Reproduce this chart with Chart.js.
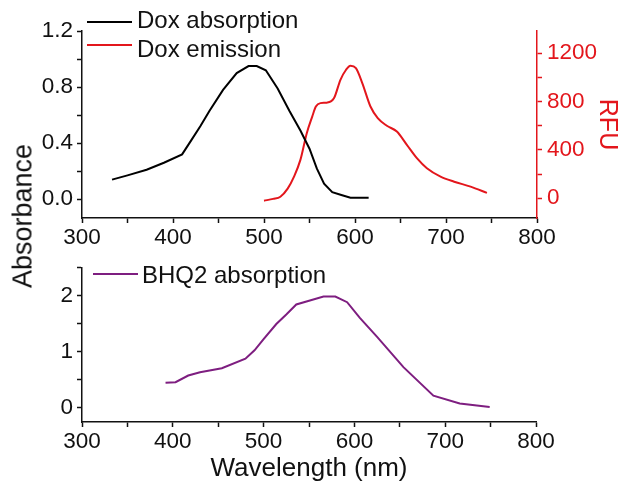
<!DOCTYPE html>
<html>
<head>
<meta charset="utf-8">
<script src="https://cdn.jsdelivr.net/npm/chart.js@4.4.1/dist/chart.umd.min.js"></script>
<style>
  body { margin: 0; background: #fff; }
  #wrap { position: relative; width: 624px; height: 485px; overflow: hidden; }
  canvas { position: absolute; left: 0; }
  #top { top: 0; }
  #bottom { top: 250px; }
  #ylabel {
    position: absolute; left: 23px; top: 216px;
    transform: translate(-50%, -50%) rotate(-90deg);
    font: 27px "Liberation Sans", Arial, sans-serif; color: #111; white-space: nowrap;
  }
</style>
</head>
<body>
<div id="wrap">
  <canvas id="top" width="624" height="250"></canvas>
  <canvas id="bottom" width="624" height="235"></canvas>
  <div id="ylabel">Absorbance</div>
</div>
<script>
// Dox absorption (left axis, top panel)
const doxAbsNm = [333, 350, 371, 390, 410, 420, 430, 440, 455, 470, 483, 492, 502, 515, 528, 540, 550, 558, 566, 575, 585, 595, 615]
const doxAbs = [0.14, 0.17, 0.21, 0.26, 0.32, 0.42, 0.52, 0.63, 0.78, 0.90, 0.95, 0.95, 0.92, 0.79, 0.63, 0.49, 0.36, 0.22, 0.11, 0.05, 0.03, 0.01, 0.01]

// Dox emission (right axis, RFU)
const doxEmNm = [500, 510, 518, 526, 533, 540, 547, 553, 557, 562, 569, 577, 584, 590, 595, 601, 608, 617, 625, 635, 646, 657, 668, 679, 694, 709, 727, 745]
const doxEm = [-20, -5, 13, 80, 179, 317, 538, 675, 758, 786, 790, 828, 979, 1060, 1095, 1076, 952, 758, 662, 599, 551, 441, 331, 248, 179, 137, 96, 45]

// BHQ2 absorption (bottom panel)
const bhqNm = [392, 403, 417, 430, 454, 480, 490, 500, 514, 525, 536, 551, 566, 579, 592, 606, 625, 654, 687, 716, 749]
const bhqAbs = [0.44, 0.45, 0.57, 0.63, 0.70, 0.87, 1.02, 1.22, 1.49, 1.66, 1.84, 1.91, 1.98, 1.98, 1.88, 1.60, 1.26, 0.72, 0.21, 0.07, 0.01]

const wavelengthRange = [300, 800]

const FONT = '"Liberation Sans", Arial, sans-serif'
const RED = '#e3161c'
const PURPLE = '#7e1e80'

const points = (xs, ys) => xs.map((x, i) => ({ x: x, y: ys[i] }))
const every = (step, digits) => (value) => {
    const r = value / step
    return Math.abs(r - Math.round(r)) < 1e-6 ? value.toFixed(digits) : ''
}

// legend drawn as a line sample + label, at fixed spots inside the panel
const lineKey = {
    id: 'lineKey',
    afterDraw(chart, args, opts) {
        const ctx = chart.ctx
        ctx.save()
        ctx.font = opts.font
        ctx.textBaseline = 'middle'
        chart.data.datasets.forEach((ds, i) => {
            const row = opts.rows[i]
            if (!row) return
            ctx.strokeStyle = ds.borderColor
            ctx.lineWidth = 2
            ctx.beginPath()
            ctx.moveTo(row.x1, row.y)
            ctx.lineTo(row.x2, row.y)
            ctx.stroke()
            ctx.fillStyle = '#111'
            ctx.fillText(ds.label, row.tx, row.ty)
        })
        ctx.restore()
    }
}

const xAxis = (height, withTitle) => ({
    type: 'linear',
    min: wavelengthRange[0],
    max: wavelengthRange[1],
    afterFit: (scale) => { scale.height = height },
    border: { display: true, color: '#111', width: 1.5 },
    grid: { drawOnChartArea: false, drawTicks: true, tickLength: 5, tickColor: '#111', tickWidth: 1.5 },
    ticks: { stepSize: 50, autoSkip: false, maxRotation: 0, padding: 1, color: '#111',
             font: { family: FONT, size: 22.5 }, callback: every(100, 0), includeBounds: false },
    title: withTitle ? { display: true, text: 'Wavelength (nm)', color: '#111',
                         font: { family: FONT, size: 26 }, padding: { top: 0, bottom: 1 } } : { display: false }
})

const topChart = new Chart(document.getElementById('top'), {
    type: 'line',
    data: {
        datasets: [
            { label: 'Dox absorption', data: points(doxAbsNm, doxAbs), yAxisID: 'y',
              borderColor: '#000', borderWidth: 2, pointRadius: 0, tension: 0 },
            { label: 'Dox emission', data: points(doxEmNm, doxEm), yAxisID: 'y2',
              borderColor: RED, borderWidth: 2, pointRadius: 0, tension: 0.4, cubicInterpolationMode: 'monotone' }
        ]
    },
    options: {
        responsive: false,
        animation: false,
        devicePixelRatio: 1,
        layout: { padding: { top: 31, left: 0, right: 0, bottom: 0 } },
        plugins: {
            legend: { display: false },
            tooltip: { enabled: false },
            lineKey: {
                font: '24px ' + FONT,
                rows: [
                    { x1: 87, x2: 132, y: 22, tx: 137, ty: 21 },
                    { x1: 87, x2: 132, y: 45, tx: 137, ty: 50 }
                ]
            }
        },
        scales: {
            x: xAxis(32, false),
            y: {
                position: 'left',
                min: -0.134, max: 1.2,
                afterFit: (scale) => { scale.width = 82 },
                border: { display: true, color: '#111', width: 1.5 },
                grid: { drawOnChartArea: false, tickLength: 5, tickColor: '#111', tickWidth: 1.5 },
                ticks: { stepSize: 0.2, includeBounds: false, padding: 4, color: '#111',
                         font: { family: FONT, size: 22.5 }, callback: every(0.4, 1) }
            },
            y2: {
                position: 'right',
                min: -163, max: 1382,
                afterFit: (scale) => { scale.width = 87 },
                border: { display: true, color: RED, width: 1.5 },
                grid: { drawOnChartArea: false, tickLength: 5, tickColor: RED, tickWidth: 1.5 },
                ticks: { stepSize: 200, includeBounds: false, padding: 5, color: RED,
                         font: { family: FONT, size: 22.5 }, callback: every(400, 0) },
                title: { display: true, text: 'RFU', color: RED, font: { family: FONT, size: 25 }, padding: 2 }
            }
        }
    },
    plugins: [lineKey]
})

const bottomChart = new Chart(document.getElementById('bottom'), {
    type: 'line',
    data: {
        datasets: [
            { label: 'BHQ2 absorption', data: points(bhqNm, bhqAbs),
              borderColor: PURPLE, borderWidth: 2, pointRadius: 0, tension: 0 }
        ]
    },
    options: {
        responsive: false,
        animation: false,
        devicePixelRatio: 1,
        layout: { padding: { top: 17, left: 0, right: 88, bottom: 0 } },
        plugins: {
            legend: { display: false },
            tooltip: { enabled: false },
            lineKey: {
                font: '24px ' + FONT,
                rows: [ { x1: 93, x2: 138, y: 24, tx: 142, ty: 26 } ]
            }
        },
        scales: {
            x: xAxis(63, true),
            y: {
                min: -0.26, max: 2.5,
                afterFit: (scale) => { scale.width = 82 },
                border: { display: true, color: '#111', width: 1.5 },
                grid: { drawOnChartArea: false, tickLength: 5, tickColor: '#111', tickWidth: 1.5 },
                ticks: { stepSize: 0.5, includeBounds: false, padding: 4, color: '#111',
                         font: { family: FONT, size: 22.5 }, callback: every(1, 0) }
            }
        }
    },
    plugins: [lineKey]
})
</script>
</body>
</html>
